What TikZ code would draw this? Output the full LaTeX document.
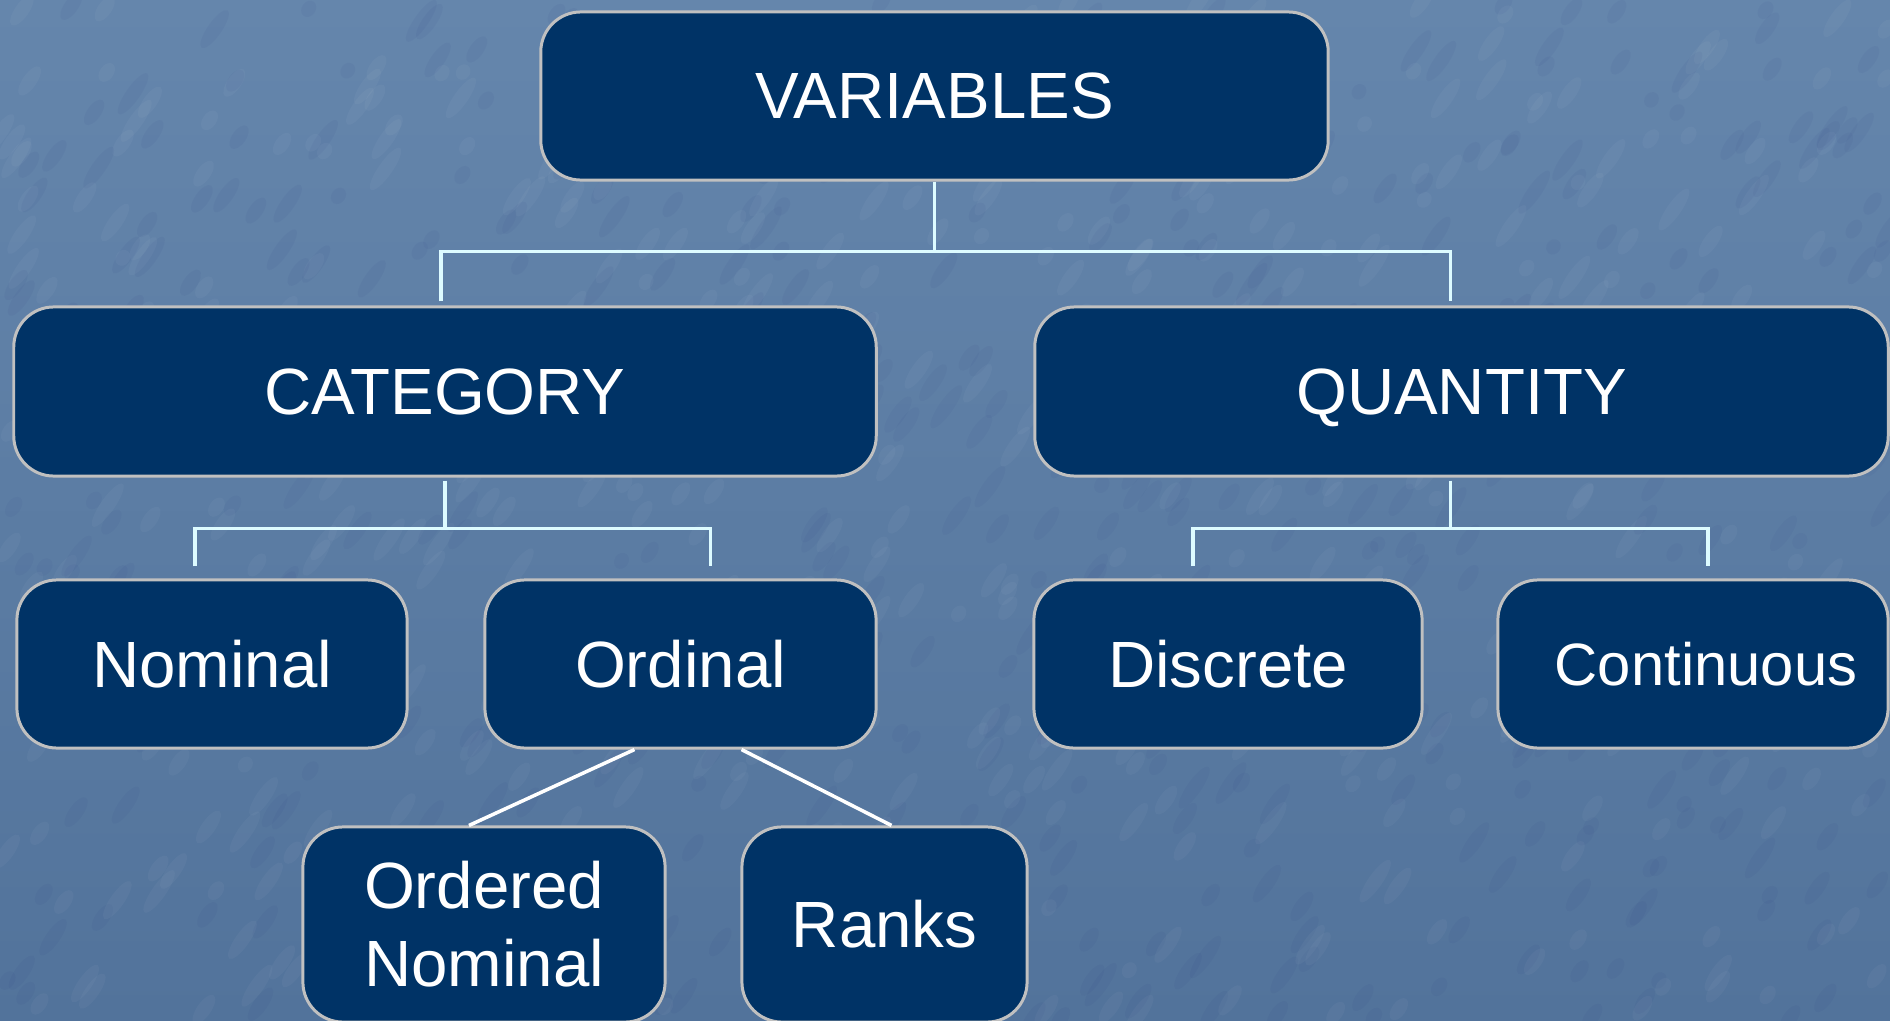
\documentclass[tikz,border=0pt]{standalone}
\usepackage{fontspec}
\setmainfont{Liberation Sans}
\usetikzlibrary{calc}
\definecolor{bgtop}{HTML}{6586AC}
\definecolor{bgbot}{HTML}{52739B}
\definecolor{boxblue}{HTML}{003366}
\definecolor{rimgray}{HTML}{C0C0C0}
\definecolor{connline}{HTML}{DDFBFF}
\tikzset{
  box/.style 2 args={draw=rimgray, fill=boxblue, line width=0.85pt,
    rounded corners=0.4cm, minimum width=#1, minimum height=#2,
    inner sep=0pt, text=white, font=\fontsize{18.6pt}{22.2pt}\selectfont, align=center},
  conn/.style={draw=connline, line width=1pt},
  diag/.style={draw=white, line width=1pt}
}
\begin{document}
\begin{tikzpicture}[x=0.01cm, y=-0.01cm]
\useasboundingbox (0,0) rectangle (1890,1021);
\shade[top color=bgtop, bottom color=bgbot] (0,0) rectangle (1890,1021);
\begin{scope}
\clip (0,0) rectangle (1890,1021);
\pgfmathsetseed{7}
\foreach \i in {1,...,500}{
  \pgfmathsetmacro{\px}{rnd*1890}
  \pgfmathsetmacro{\py}{rnd*1021}
  \pgfmathsetmacro{\pr}{8+rnd*18}
  \fill[white, opacity=0.035, rotate around={55:(\px,\py)}] (\px,\py) ellipse ({\pr*0.01cm} and 0.07cm);
  \pgfmathsetmacro{\qx}{rnd*1890}
  \pgfmathsetmacro{\qy}{rnd*1021}
  \fill[black!60!blue, opacity=0.03, rotate around={55:(\qx,\qy)}] (\qx,\qy) ellipse ({\pr*0.01cm} and 0.07cm);
}
\end{scope}

% nodes
\node[box={7.87cm}{1.68cm}] (v) at (934.5,96) {VARIABLES};
\node[box={8.62cm}{1.69cm}] (c) at (445,391.5) {CATEGORY};
\node[box={8.53cm}{1.69cm}, text depth=0pt] (q) at (1461.5,391.5) {QUANTITY};
\node[box={3.90cm}{1.68cm}] (n) at (212,664) {Nominal};
\node[box={3.91cm}{1.68cm}] (o) at (680.5,664) {Ordinal};
\node[box={3.88cm}{1.68cm}] (d) at (1228,664) {Discrete};
\node[box={3.90cm}{1.68cm}, font=\fontsize{17pt}{20pt}\selectfont] (k) at (1693,664) {\hspace*{0.26cm}Continuous};
\node[box={3.62cm}{1.95cm}] (on) at (484,924.5) {Ordered\\Nominal};
\node[box={2.85cm}{1.95cm}] (r) at (884.5,924.5) {Ranks};

% connectors: top level
\coordinate (b1) at ($(v.south)+(0,70)$);
\draw[conn] (v.south) -- (b1);
\draw[conn] ([shift={(-0.04cm,0.04cm)}]c.north) |- (b1) -| ([shift={(-0.11cm,0.04cm)}]q.north);

% category
\draw[conn] ([yshift=-0.03cm]c.south) -- ++(0,48) coordinate (b2);
\draw[conn] ([shift={(-0.17cm,0.12cm)}]n.north) |- (b2) -| ([shift={(0.30cm,0.12cm)}]o.north);

% quantity
\draw[conn] ([shift={(-0.11cm,-0.03cm)}]q.south) -- ++(0,48) coordinate (b3);
\draw[conn] ([shift={(-0.35cm,0.12cm)}]d.north) |- (b3) -| ([shift={(0.15cm,0.12cm)}]k.north);

% ordinal
\draw[diag] ([xshift=-0.46cm]o.south) -- ([xshift=-0.15cm]on.north);
\draw[diag] ([xshift=0.61cm]o.south) -- ([xshift=0.07cm]r.north);
\end{tikzpicture}
\end{document}
